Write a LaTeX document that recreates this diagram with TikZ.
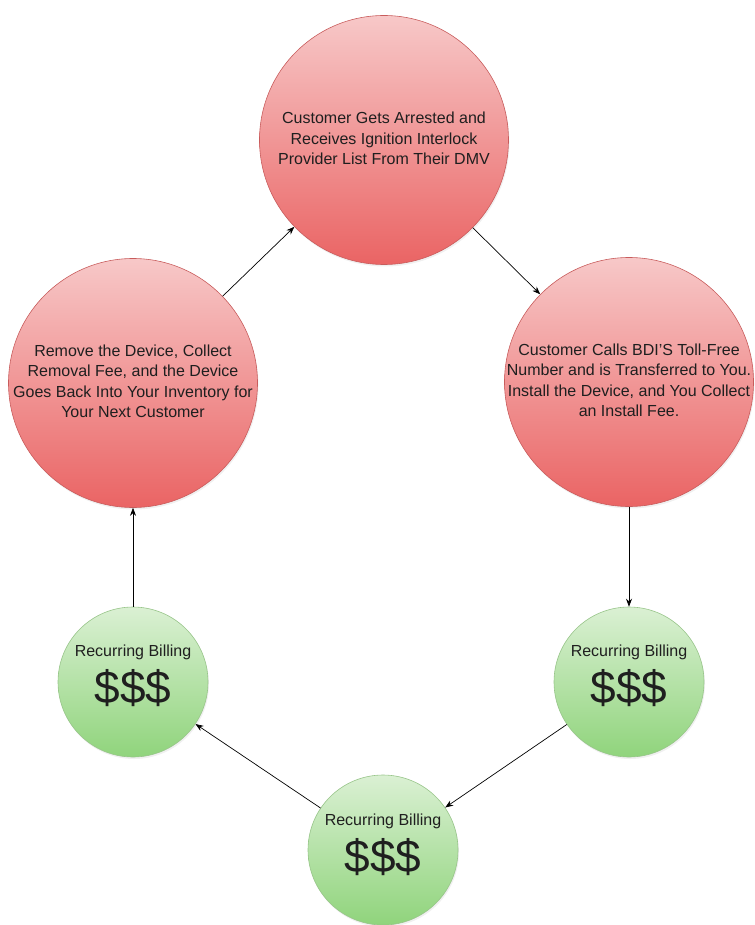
\documentclass[tikz,border=0pt]{standalone}
\usepackage{fontspec}
\setmainfont{Liberation Sans}
\usetikzlibrary{arrows.meta}
\usetikzlibrary{shadows}

\definecolor{redtop}{HTML}{F7C8C8}
\definecolor{redbot}{HTML}{EA6464}
\definecolor{redline}{HTML}{C85C5C}
\definecolor{greentop}{HTML}{DAF0D3}
\definecolor{greenbot}{HTML}{90D47C}
\definecolor{greenline}{HTML}{98C58A}

% text lines inside a ball, kept from widening the circle
\newcommand{\balltext}[2][0pt]{\makebox[0pt]{\raisebox{#1}[\height][\depth]{\begin{tabular}{@{}c@{}}#2\end{tabular}}}}
\newcommand{\dollars}{{\fontsize{46}{48}\selectfont\$\$\$}}

\begin{document}
\begin{tikzpicture}[x=1pt,y=-1pt,
  ball/.style={circle,inner sep=0pt,line width=0.6pt,text=black!88,
    font=\fontsize{16}{20.5}\selectfont,
    drop shadow={opacity=0.12,shadow xshift=1pt,shadow yshift=-2pt}},
  redball/.style={ball,draw=redline,top color=redtop,bottom color=redbot,minimum size=249pt},
  greenball/.style={ball,draw=greenline,top color=greentop,bottom color=greenbot,minimum size=150pt},
  link/.style={-{Stealth[length=8pt,width=6pt]},line width=0.7pt}]
  \useasboundingbox (0,0) rectangle (754,925);

  \node[redball] (arrest) at (384,140)
    {\balltext{Customer Gets Arrested and\\Receives Ignition Interlock\\Provider List From Their DMV}};
  \node[redball] (install) at (629,382)
    {\balltext{Customer Calls BDI{\char"27}S Toll-Free\\Number and is Transferred to You.\\Install the Device, and You Collect\\an Install Fee.}};
  \node[redball] (remove) at (133,383)
    {\balltext{Remove the Device, Collect\\Removal Fee, and the Device\\Goes Back Into Your Inventory for\\Your Next Customer}};

  \node[greenball] (billA) at (629,682) {\balltext[6pt]{Recurring Billing\\[7pt]\dollars}};
  \node[greenball] (billB) at (383,850) {\balltext[5pt]{Recurring Billing\\[7pt]\dollars}};
  \node[greenball] (billC) at (133,682) {\balltext[6pt]{Recurring Billing\\[7pt]\dollars}};

  \foreach \a/\b in {arrest/install,install/billA,billA/billB,billB/billC,billC/remove,remove/arrest}
    \draw[link] (\a) -- (\b);
\end{tikzpicture}
\end{document}
